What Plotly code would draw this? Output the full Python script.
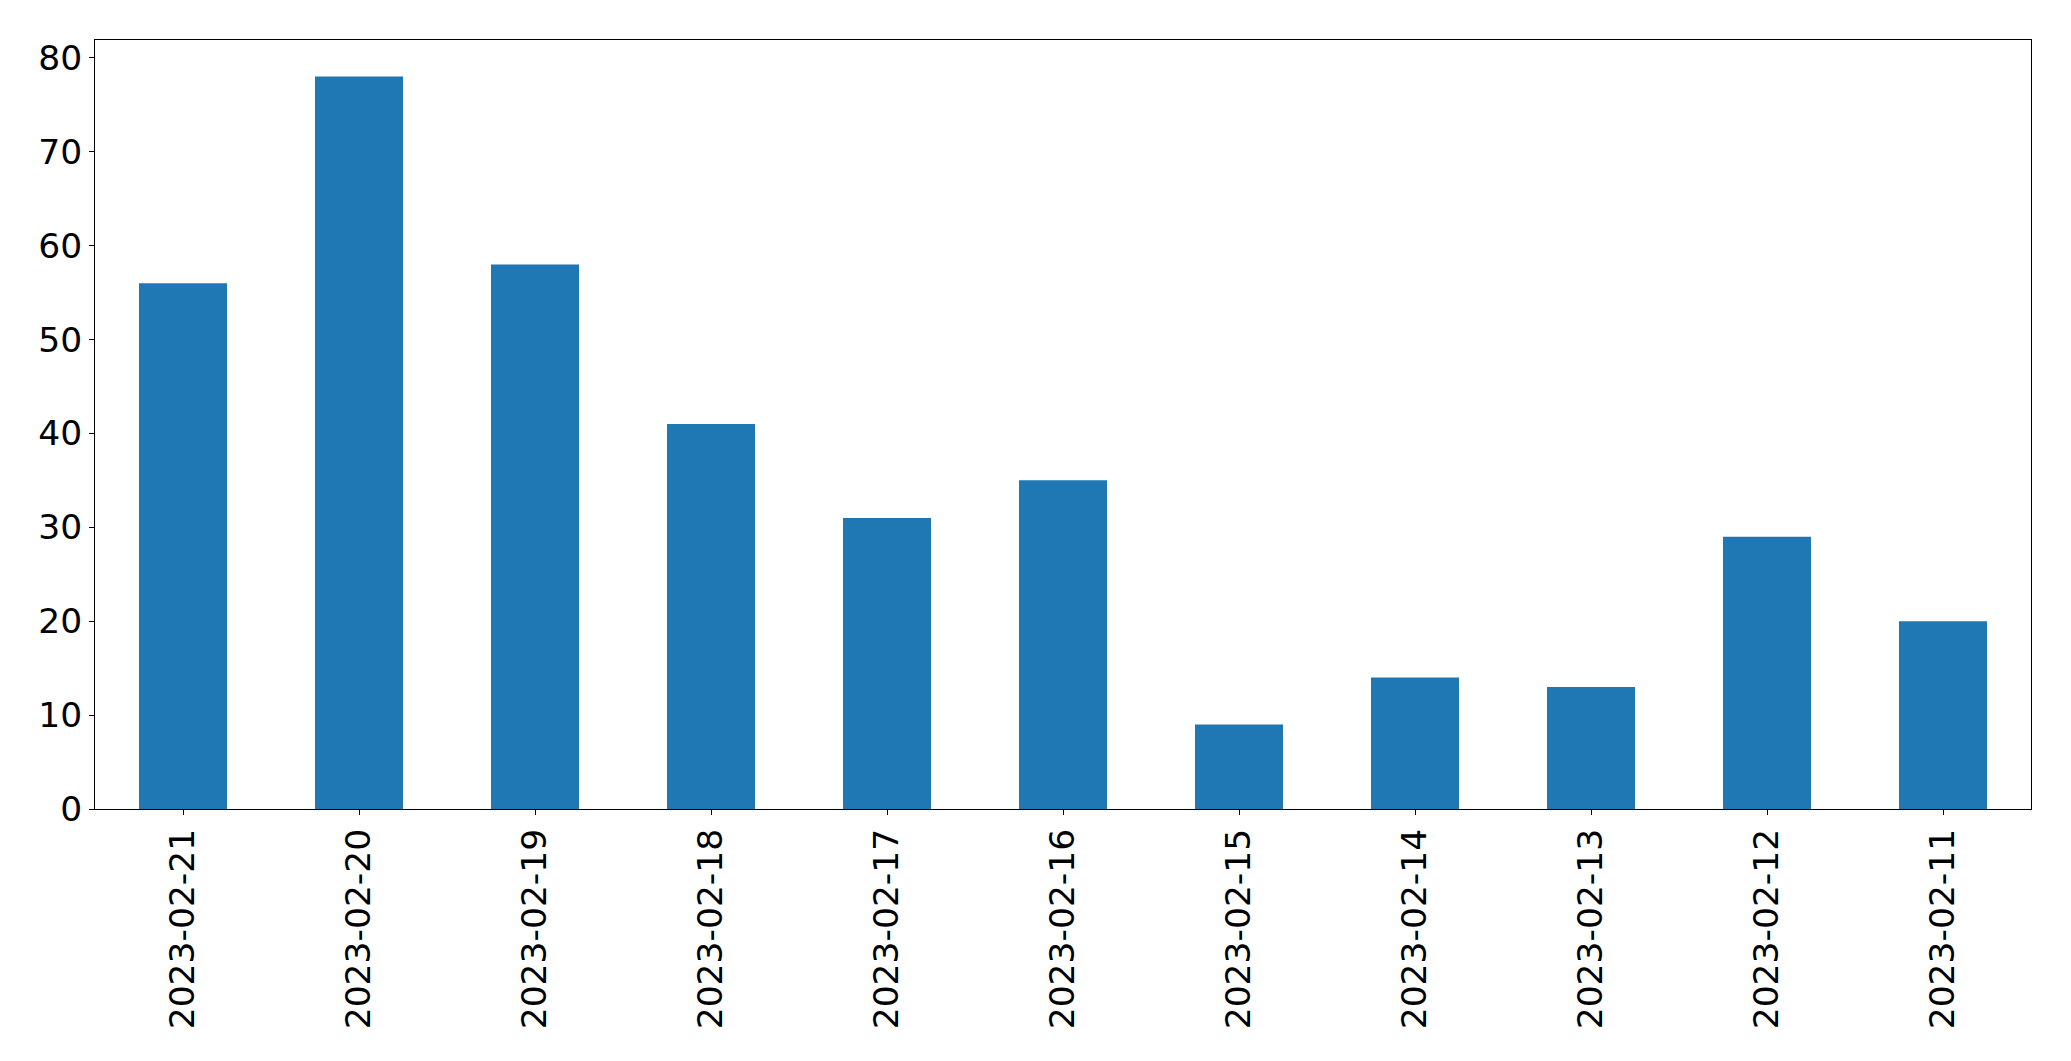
import plotly.graph_objects as go

dates = ["2023-02-21", "2023-02-20", "2023-02-19", "2023-02-18", "2023-02-17",
         "2023-02-16", "2023-02-15", "2023-02-14", "2023-02-13", "2023-02-12", "2023-02-11"]
counts = [56, 78, 58, 41, 31, 35, 9, 14, 13, 29, 20]
y_ticks = [0, 10, 20, 30, 40, 50, 60, 70, 80]

fig = go.Figure(go.Bar(x=dates, y=counts, marker=dict(color="#1f77b4", line=dict(width=0)), width=0.5))

fig.update_layout(
    width=2071, height=1061,
    margin=dict(l=87, r=48, t=32, b=260),
    paper_bgcolor="white", plot_bgcolor="white",
    font=dict(family="DejaVu Sans", size=34.5, color="black"),
    showlegend=False,
    bargap=0.5,
)
fig.update_xaxes(
    type="category", range=[-0.5, len(dates) - 0.5],
    tickangle=-90, ticks="outside", ticklen=5, tickwidth=1, tickcolor="black",
    showline=True, linecolor="black", linewidth=1, mirror=True, showgrid=False,
    tickfont=dict(size=34.5),
)
fig.update_yaxes(
    range=[0, 81.9], tickvals=y_ticks, ticks="outside", ticklen=5, tickwidth=1, tickcolor="black",
    showline=True, linecolor="black", linewidth=1, mirror=True, showgrid=False, zeroline=False,
    tickfont=dict(size=34.5),
)

fig.write_html("out.html")
